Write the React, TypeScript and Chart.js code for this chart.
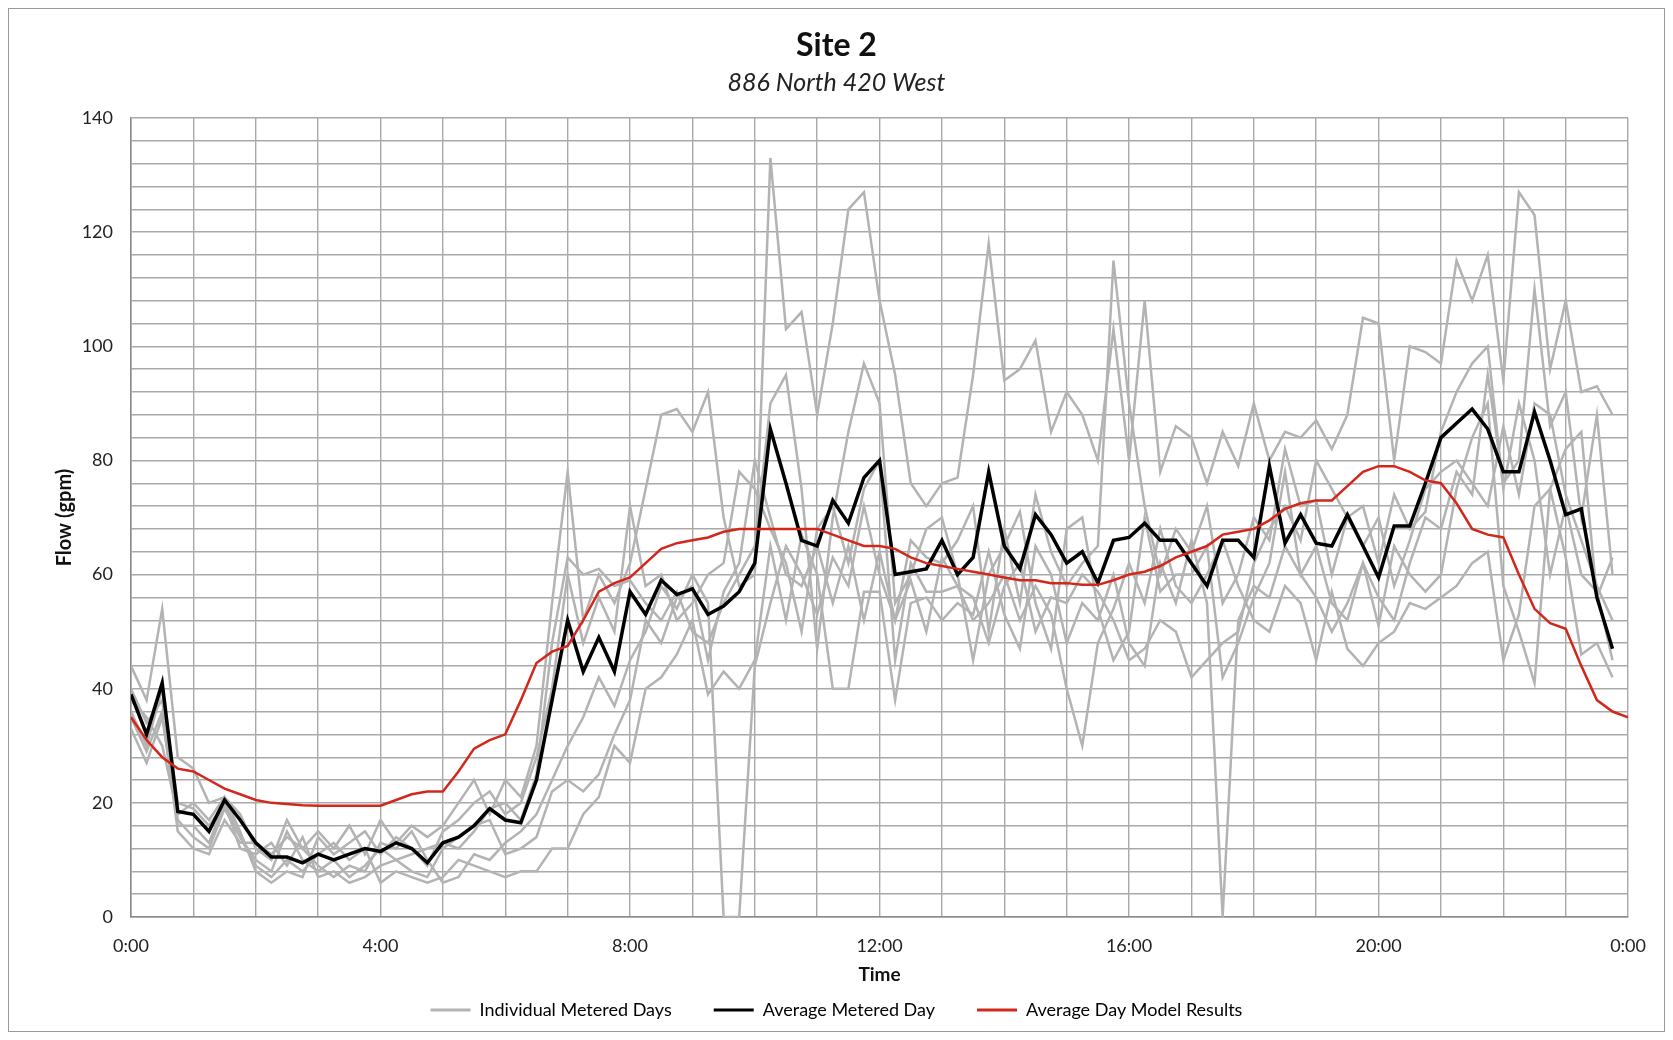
import React, { useEffect, useRef } from "react";
import { Chart, registerables } from "chart.js";

Chart.register(...registerables);

// Hour ticks on the x axis (0..24), labelled every 4 hours
const HOUR_TICK_LABELS = ["0:00", "4:00", "8:00", "12:00", "16:00", "20:00", "0:00"];
const Y_LABEL_STEP = 20;

const TITLE = "Site 2";
const SUBTITLE = "886 North 420 West";
const Y_TITLE = "Flow (gpm)";
const X_TITLE = "Time";

const LEGEND_GRAY = "Individual Metered Days";
const LEGEND_BLACK = "Average Metered Day";
const LEGEND_RED = "Average Day Model Results";

// 15-minute samples, 0:00 .. 23:45
const dayA = [
  44, 38, 54, 28, 26, 20, 21, 18, 12, 10, 17, 12, 15, 12, 16, 11,
  17, 13, 16, 14, 16, 20, 24, 18, 24, 21, 30, 55, 78, 52, 60, 55,
  62, 75, 88, 89, 85, 92, 70, 58, 60, 133, 103, 106, 88, 104, 124, 127,
  108, 95, 76, 72, 76, 77, 95, 118, 94, 96, 101, 85, 92, 88, 80, 103,
  80, 108, 78, 86, 84, 76, 85, 79, 90, 80, 85, 84, 87, 82, 88, 105,
  104, 80, 100, 99, 97, 115, 108, 116, 94, 127, 123, 96, 108, 92, 93, 88,
];
const dayB = [
  36, 30, 40, 20, 19, 16, 20, 14, 10, 8, 15, 10, 8, 10, 7, 9,
  12, 10, 11, 12, 13, 12, 15, 19, 20, 17, 25, 48, 63, 60, 61, 58,
  59, 55, 52, 57, 50, 48, 55, 60, 65, 90, 95, 75, 47, 70, 85, 97,
  90, 55, 60, 68, 70, 60, 45, 60, 65, 71, 55, 47, 68, 70, 54, 45,
  50, 70, 57, 60, 60, 65, 42, 48, 56, 62, 78, 60, 65, 55, 52, 62,
  56, 52, 62, 70, 68, 78, 74, 95, 76, 80, 110, 86, 92, 70, 88, 60,
];
const dayC = [
  33, 27, 35, 17, 14, 12, 19, 14, 9, 7, 10, 8, 11, 13, 10, 12,
  6, 8, 7, 6, 7, 10, 9, 8, 7, 8, 8, 12, 12, 18, 21, 30,
  27, 40, 42, 46, 52, 39, 43, 40, 45, 65, 52, 67, 60, 40, 40, 57,
  57, 38, 55, 56, 52, 55, 53, 64, 53, 47, 65, 60, 48, 55, 52, 60,
  48, 44, 62, 55, 66, 55, 0, 52, 58, 56, 65, 60, 56, 50, 55, 62,
  51, 65, 60, 57, 60, 75, 84, 90, 58, 50, 41, 75, 82, 85, 56, 63,
];
const dayD = [
  40, 34, 38, 16, 16, 13, 20, 12, 11, 13, 9, 14, 7, 8, 6, 7,
  9, 10, 8, 7, 12, 14, 16, 17, 11, 12, 14, 22, 24, 22, 25, 32,
  38, 52, 48, 56, 58, 45, 57, 62, 80, 70, 60, 58, 65, 55, 65, 52,
  64, 52, 66, 63, 62, 66, 72, 50, 68, 55, 74, 64, 58, 62, 65, 115,
  90, 72, 60, 68, 64, 72, 55, 60, 70, 66, 82, 72, 73, 60, 70, 72,
  62, 74, 68, 71, 85, 92, 97, 100, 75, 90, 80, 60, 72, 60, 57, 45,
];
const dayE = [
  38, 35, 30, 18, 20, 17, 21, 15, 8, 6, 8, 7, 14, 11, 13, 15,
  11, 14, 12, 9, 15, 17, 20, 22, 18, 20, 28, 40, 60, 48, 56, 50,
  72, 58, 60, 52, 55, 60, 62, 78, 75, 68, 62, 50, 68, 72, 62, 75,
  80, 45, 62, 57, 57, 58, 52, 55, 60, 52, 58, 53, 40, 30, 48, 54,
  62, 55, 68, 58, 55, 60, 66, 58, 52, 50, 58, 55, 45, 57, 47, 44,
  48, 50, 55, 54, 56, 58, 62, 64, 45, 53, 72, 75, 63, 46, 48, 42,
];
const dayF = [
  35, 29, 36, 15, 12, 11, 17, 13, 13, 11, 14, 12, 9, 7, 9, 8,
  13, 12, 15, 10, 6, 7, 11, 10, 13, 15, 18, 24, 30, 35, 42, 37,
  45, 50, 58, 54, 60, 55, 0, 0, 44, 55, 65, 60, 53, 63, 58, 72,
  60, 52, 59, 50, 63, 58, 56, 48, 58, 62, 50, 56, 55, 60, 57, 52,
  45, 47, 52, 50, 42, 45, 48, 50, 62, 68, 72, 66, 80, 75, 70, 65,
  70, 58, 66, 75, 78, 80, 76, 72, 86, 74, 90, 88, 74, 66, 58, 52,
];

const averageMetered = [
  39, 32, 41, 18.5, 18, 15, 20.5, 17, 13, 10.5, 10.5, 9.5, 11, 10, 11, 12,
  11.5, 13, 12, 9.5, 13, 14, 16, 19, 17, 16.5, 24, 38, 52, 43, 49, 43,
  57, 53, 59, 56.5, 57.5, 53, 54.5, 57, 62, 85.5, 76, 66, 65, 73, 69, 77,
  80, 60, 60.5, 61, 66, 60, 63, 78, 65, 61, 70.5, 67, 62, 64, 58.5, 66,
  66.5, 69, 66, 66, 62, 58, 66, 66, 63, 79, 65.5, 70.5, 65.5, 65, 70.5, 65,
  59.5, 68.5, 68.5, 76, 84, 86.5, 89, 85.5, 78, 78, 88.5, 80, 70.5, 71.5, 56, 47,
];

// 15-minute samples, 0:00 .. 24:00
const modelResults = [
  35, 31, 28, 26, 25.5, 24, 22.5, 21.5, 20.5, 20, 19.8, 19.6, 19.5, 19.5, 19.5, 19.5,
  19.5, 20.5, 21.5, 22, 22, 25.5, 29.5, 31, 32, 38, 44.5, 46.5, 47.5, 52, 57, 58.5,
  59.5, 62, 64.5, 65.5, 66, 66.5, 67.5, 68, 68, 68, 68, 68, 68, 67, 66, 65,
  65, 64.5, 63, 62, 61.5, 61, 60.5, 60, 59.5, 59, 59, 58.5, 58.5, 58.2, 58.2, 59,
  60, 60.5, 61.5, 63, 64, 65, 67, 67.5, 68, 69.5, 71.5, 72.5, 73, 73, 75.5, 78,
  79, 79, 78, 76.5, 76, 72.5, 68, 67, 66.5, 60, 54, 51.5, 50.5, 44, 38, 36,
  35,
];

const grayDays = [dayA, dayB, dayC, dayD, dayE, dayF];

const STEP_HOURS = 0.25;
const toPoints = (vals: number[]) => vals.map((v, i) => ({ x: i * STEP_HOURS, y: v }));

const GRAY = "#b3b3b3";
const BLACK = "#000000";
const RED = "#d2281c";
const GRID = "#a9a9a9";

export default function App() {
  const canvasRef = useRef<HTMLCanvasElement | null>(null);

  useEffect(() => {
    if (!canvasRef.current) return;
    const grayDatasets = grayDays.map((d) => ({
      label: LEGEND_GRAY,
      data: toPoints(d),
      borderColor: GRAY,
      backgroundColor: GRAY,
      borderWidth: 2.5,
      pointRadius: 0,
      tension: 0,
      order: 2,
    }));
    const chart = new Chart(canvasRef.current, {
      type: "line",
      data: {
        datasets: [
          ...grayDatasets,
          {
            label: LEGEND_BLACK,
            data: toPoints(averageMetered),
            borderColor: BLACK,
            backgroundColor: BLACK,
            borderWidth: 3.5,
            pointRadius: 0,
            tension: 0,
            order: 1,
          },
          {
            label: LEGEND_RED,
            data: toPoints(modelResults),
            borderColor: RED,
            backgroundColor: RED,
            borderWidth: 2.5,
            pointRadius: 0,
            tension: 0,
            order: 0,
          },
        ],
      },
      options: {
        responsive: false,
        animation: false,
        layout: { padding: { top: 0, left: 0, right: 0, bottom: 12 } },
        scales: {
          x: {
            type: "linear",
            min: 0,
            max: 24,
            afterFit: (s: any) => {
              s.height = 42;
            },
            ticks: {
              stepSize: 1,
              autoSkip: false,
              maxRotation: 0,
              padding: 18,
              color: "#222",
              font: { family: "Lato", size: 18 },
              callback: (v: any) => {
                const n = Number(v);
                return n % 4 === 0 ? HOUR_TICK_LABELS[n / 4] : "";
              },
            },
            grid: { color: GRID, lineWidth: 1.4, drawTicks: false },
            border: { color: "#8a8a8a", width: 1.5 },
            title: {
              display: true,
              text: X_TITLE,
              color: "#111",
              font: { family: "Lato", size: 19, weight: "bold" },
              padding: { top: 0, bottom: -27.4 },
            },
          },
          y: {
            min: 0,
            max: 140,
            afterFit: (s: any) => {
              s.width = 122;
            },
            ticks: {
              stepSize: 4,
              autoSkip: false,
              padding: 18,
              color: "#222",
              font: { family: "Lato", size: 18 },
              callback: (v: any) => (Number(v) % Y_LABEL_STEP === 0 ? String(v) : ""),
            },
            grid: { color: GRID, lineWidth: 1.4, drawTicks: false },
            border: { color: "#8a8a8a", width: 1.5 },
            title: {
              display: true,
              text: Y_TITLE,
              color: "#111",
              font: { family: "Lato", size: 20, weight: "bold" },
              padding: { top: 44, bottom: 0 },
            },
          },
          yRight: {
            position: "right",
            min: 0,
            max: 140,
            afterFit: (s: any) => {
              s.width = 32;
            },
            ticks: { display: false },
            grid: { display: false, drawTicks: false },
            border: { display: false },
          },
        },
        plugins: {
          title: {
            display: true,
            text: TITLE,
            color: "#111",
            font: { family: "Lato", size: 32, weight: "bold" },
            padding: { top: 17, bottom: 0 },
          },
          subtitle: {
            display: true,
            text: SUBTITLE,
            color: "#222",
            font: { family: "Lato", size: 25, style: "italic" },
            padding: { top: 3.6, bottom: 20 },
          },
          legend: {
            display: true,
            position: "bottom",
            maxHeight: 60,
            labels: {
              boxWidth: 40,
              boxHeight: 3,
              padding: 42,
              color: "#222",
              font: { family: "Lato", size: 18 },
              generateLabels: () => [
                { text: LEGEND_GRAY, fillStyle: GRAY, strokeStyle: GRAY, lineWidth: 0, datasetIndex: 0, hidden: false },
                { text: LEGEND_BLACK, fillStyle: BLACK, strokeStyle: BLACK, lineWidth: 0, datasetIndex: 6, hidden: false },
                { text: LEGEND_RED, fillStyle: RED, strokeStyle: RED, lineWidth: 0, datasetIndex: 7, hidden: false },
              ],
            },
          },
          tooltip: { enabled: false },
        },
      } as any,
    });
    return () => chart.destroy();
  }, []);

  return (
    <div style={{ width: 1655, height: 1022, border: "1px solid #9a9a9a", background: "#fff" }}>
      <canvas ref={canvasRef} width={1655} height={1022} style={{ display: "block" }} />
    </div>
  );
}
